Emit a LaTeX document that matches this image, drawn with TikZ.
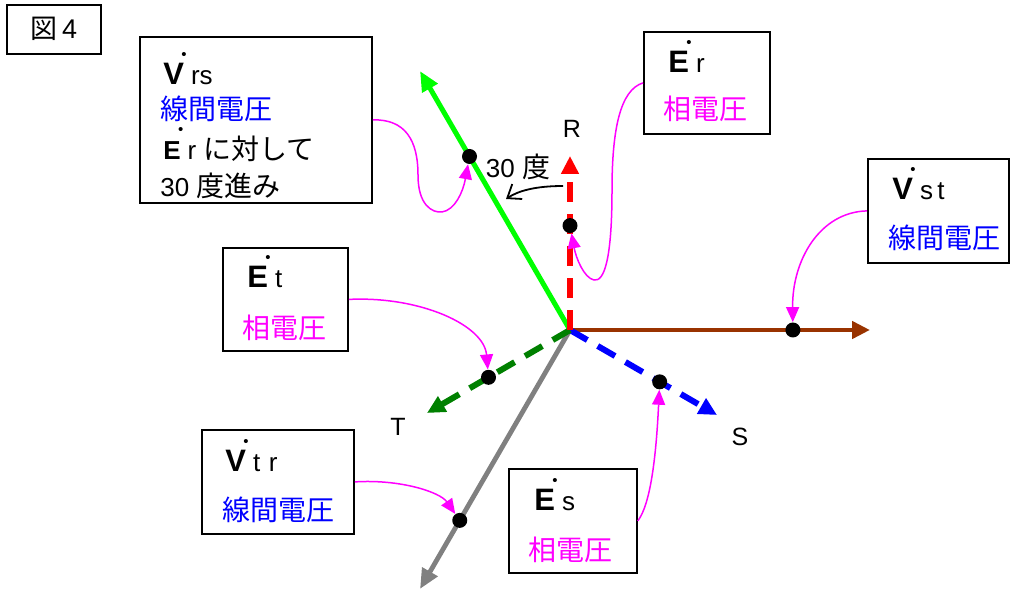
\documentclass[tikz,border=0pt]{standalone}
\usepackage{fontspec}
\setmainfont{Liberation Sans}
\newfontfamily\jp{Noto Sans CJK JP}
\usetikzlibrary{arrows.meta,calc}
\definecolor{lgreen}{RGB}{0,255,0}
\definecolor{dgreen}{RGB}{0,128,0}
\definecolor{brown}{RGB}{153,51,0}
\definecolor{gry}{RGB}{128,128,128}
\definecolor{magen}{RGB}{255,0,255}
\newcommand\vecl[2][15.5]{{\fontsize{#1}{#1}\selectfont\bfseries #2}\makebox[0pt]{\raisebox{12.5pt}{\fontsize{7.5}{7.5}\selectfont\textbullet}}\hspace{3.5pt}}
\newcommand\sub[1]{{\fontsize{13}{15}\selectfont #1}}
\begin{document}
\begin{tikzpicture}[x=0.5pt,y=-0.5pt,
  box/.style={draw, line width=0.9pt, inner sep=0, anchor=north west},
  txt/.style={inner sep=0, anchor=base west, font=\fontsize{13}{15}\selectfont},
  jtxt/.style={inner sep=0, anchor=base west, font=\fontsize{14}{16}\selectfont\jp},
  lbl/.style={inner sep=0, font=\fontsize{12.5}{14}\selectfont},
  dotn/.style={circle, fill=black, inner sep=0, minimum size=7.5pt},
  ptr/.style={magen, line width=0.75pt, -{Triangle[length=7.5pt,width=6.5pt]}},
  vline/.style={line width=2.5pt, -{Triangle[length=10pt,width=8.5pt]}},
  phase/.style={line width=3pt, dash pattern=on 10pt off 6pt, -{Triangle[length=9pt,width=8.5pt]}}
]
\useasboundingbox (0,0) rectangle (1011,592);

% figure label
\node[box, minimum width=47pt, minimum height=24.5pt] (fig) at (6,4) {};
\node[inner sep=0, font=\fontsize{13.5}{15}\selectfont] (figt) at (54,29) {{\jp 図}\,4};

% vectors
\coordinate (O) at (570,330);
\coordinate (tVrs) at (420,71);
\coordinate (tVtr) at (420,589);
\coordinate (tVst) at (870,330);
\coordinate (tEr) at (570,156);
\coordinate (tEs) at (717,415);
\coordinate (tEt) at (427,413);

\draw[vline, gry, line width=2.4pt] (O) -- (tVtr);
\draw[vline, lgreen] (O) -- (tVrs);
\draw[vline, brown, line width=2.4pt, -{Triangle[length=9pt,width=8.5pt]}] (O) -- (tVst);
\draw[phase, blue] (O) -- (tEs);
\draw[phase, dgreen] (O) -- (tEt);
\draw[phase, red] (O) -- (tEr);

% dots
\node[dotn] (dVrs) at ($(O)!0.67!(tVrs)$) {};
\node[dotn] (dVtr) at ($(O)!0.735!(tVtr)$) {};
\node[dotn] (dVst) at ($(O)!0.743!(tVst)$) {};
\node[dotn] (dEr) at ($(O)!0.6!(tEr)$) {};
\node[dotn] (dEs) at ($(O)!0.61!(tEs)$) {};
\node[dotn] (dEt) at ($(O)!0.57!(tEt)$) {};

% phase labels
\node[lbl] (R) at (572,129) {R};
\node[lbl] (T) at (398,427) {T};
\node[lbl] (S) at (740,437) {S};

% 30 degree
\node[inner sep=0, font=\fontsize{13}{15}\selectfont] (ang) at (518,167) {30 {\jp\fontsize{14}{16}\selectfont 度}};
\coordinate (a1) at (563,186);
\coordinate (a2) at (506,199);
\draw[line width=0.9pt, -{Straight Barb[length=6pt,width=9pt]}] (a1) .. controls (535,186) and (518,191) .. (a2);

% boxes
\node[box, minimum width=116pt, minimum height=83pt] (vrs) at (139,36) {};
\node[txt] (vrs1) at (163,85) {\vecl{V}\sub{rs}};
\node[jtxt, blue] (vrs2) at (160,120) {線間電圧};
\node[txt] (vrs3) at (163,160) {\vecl[13]{E}\sub{r} {\jp\fontsize{14}{16}\selectfont に対して}};
\node[txt] (vrs4) at (160,197) {30 {\jp\fontsize{14}{16}\selectfont 度進み}};

\node[box, minimum width=63pt, minimum height=51pt] (er) at (643,31) {};
\node[txt] (er1) at (668,73) {\vecl{E}\sub{r}};
\node[jtxt, magen] (er2) at (663,120) {相電圧};

\node[box, minimum width=70.5pt, minimum height=52pt] (vst) at (867,158) {};
\node[txt] (vst1) at (892,200) {\vecl{V}\sub{s\,t}};
\node[jtxt, blue] (vst2) at (888,249) {線間電圧};

\node[box, minimum width=62.5pt, minimum height=51.5pt] (et) at (222,247) {};
\node[txt] (et1) at (247,288) {\vecl{E}\sub{t}};
\node[jtxt, magen] (et2) at (242,339) {相電圧};

\node[box, minimum width=76pt, minimum height=52pt] (vtr) at (201,429) {};
\node[txt] (vtr1) at (225,472) {\vecl{V}\sub{t\,\,r}};
\node[jtxt, blue] (vtr2) at (222,520) {線間電圧};

\node[box, minimum width=64pt, minimum height=52pt] (es) at (508,468) {};
\node[txt] (es1) at (534,510) {\vecl{E}\sub{s}};
\node[jtxt, magen] (es2) at (528,560) {相電圧};

% magenta pointers
\draw[ptr] (vrs.east) .. controls (405,119) and (418,140) .. (418,175)
  .. controls (418,205) and (432,213) .. (442,212)
  .. controls (455,210) and (463,192) .. (dVrs);
\draw[ptr] (er.west) .. controls (620,90) and (612,130) .. (612,190)
  .. controls (612,260) and (604,282) .. (594,280)
  .. controls (584,278) and (576,258) .. (dEr);
\draw[ptr] (vst.west) .. controls (820,212) and (792,260) .. (dVst);
\draw[ptr] (et.east) .. controls (420,296) and (484,325) .. (dEt);
\draw[ptr] (vtr.east) .. controls (400,479) and (440,492) .. (dVtr);
\draw[ptr] (es.east) .. controls (650,505) and (656,460) .. (dEs);
\end{tikzpicture}
\end{document}
